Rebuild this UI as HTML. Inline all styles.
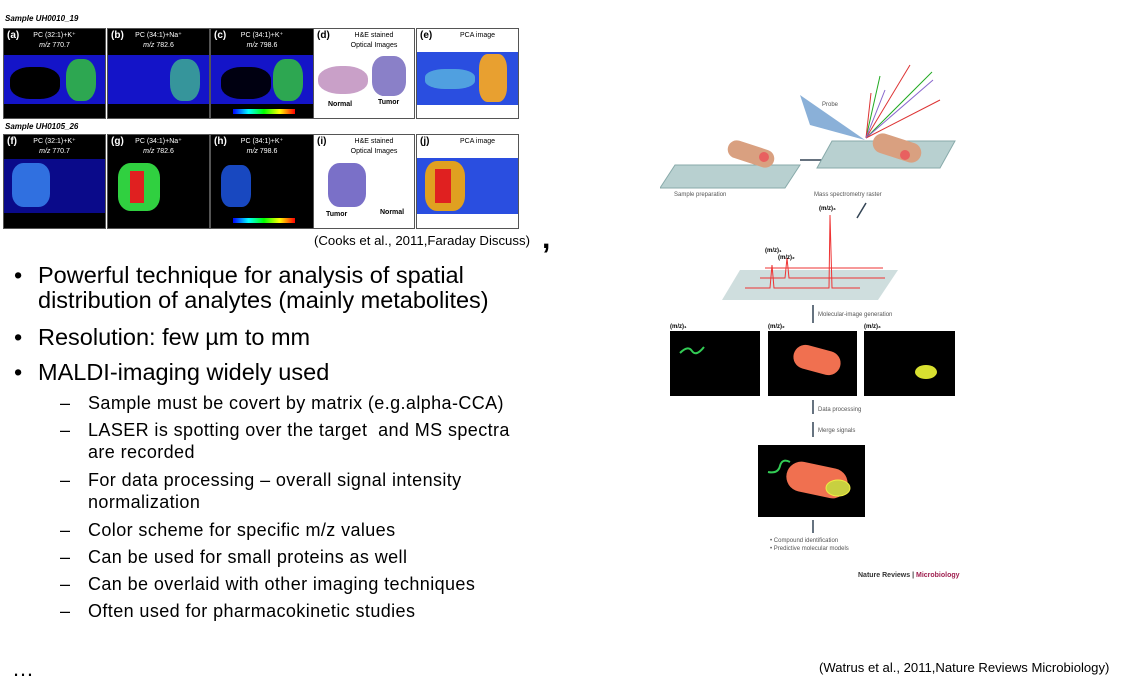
<!DOCTYPE html>
<html><head><meta charset="utf-8"><style>
body{margin:0;width:1121px;height:685px;background:#fff;position:relative;overflow:hidden;font-family:"Liberation Sans",sans-serif;color:#000}
.a{position:absolute}
.pn{position:absolute;background:#000;border:1px solid #555;overflow:hidden}
.pl{position:absolute;left:3px;top:1px;color:#fff;font-size:10px;font-weight:bold}
.pt{position:absolute;left:0;right:0;top:2px;text-align:center;color:#fff;font-size:7px;line-height:10px}
.bd{position:absolute;left:0;right:0;background:#1414c8}
.wp{position:absolute;background:#fff;border:1px solid #555;overflow:hidden}
.wp .pl,.wp .pt{color:#000}
.b1{font-size:23.5px;line-height:25px}
.bl{position:absolute}
.b2{font-size:18px;line-height:22px;letter-spacing:0.4px}
.b2 > div{position:relative;padding-left:28px}
.b2 .bl{left:0}
</style></head><body>
<div class="a" style="left:5px;top:14px;font-size:8px;font-weight:bold;font-style:italic">Sample UH0010_19</div>
<div class="a" style="left:5px;top:122px;font-size:8px;font-weight:bold;font-style:italic">Sample UH0105_26</div>

<div class="pn" style="left:3px;top:28px;width:101px;height:89px"><div class="bd" style="top:26px;height:49px"></div><div class="a" style="left:6px;top:38px;width:50px;height:32px;background:#000;border-radius:40%"></div><div class="a" style="left:62px;top:30px;width:30px;height:42px;background:#3c3;border-radius:40%;opacity:.8"></div><div class="pl">(a)</div><div class="pt">PC (32:1)+K⁺<br><i>m/z</i> 770.7</div></div>
<div class="pn" style="left:107px;top:28px;width:101px;height:89px"><div class="bd" style="top:26px;height:49px"></div><div class="a" style="left:62px;top:30px;width:30px;height:42px;background:#4c8;border-radius:40%;opacity:.7"></div><div class="pl">(b)</div><div class="pt">PC (34:1)+Na⁺<br><i>m/z</i> 782.6</div></div>
<div class="pn" style="left:210px;top:28px;width:102px;height:89px"><div class="bd" style="top:26px;height:49px"></div><div class="a" style="left:10px;top:38px;width:50px;height:32px;background:#001;border-radius:40%"></div><div class="a" style="left:62px;top:30px;width:30px;height:42px;background:#3c3;border-radius:40%;opacity:.8"></div><div class="a" style="left:22px;top:80px;width:62px;height:5px;background:linear-gradient(90deg,#00f,#0ff,#0f0,#ff0,#f00)"></div><div class="pl">(c)</div><div class="pt">PC (34:1)+K⁺<br><i>m/z</i> 798.6</div></div>
<div class="wp" style="left:313px;top:28px;width:100px;height:89px"><div class="a" style="left:4px;top:37px;width:50px;height:28px;background:#c9a0c8;border-radius:45%"></div><div class="a" style="left:58px;top:27px;width:34px;height:40px;background:#8a80c8;border-radius:35%"></div><div class="pl">(d)</div><div class="pt" style="left:20px">H&amp;E stained<br>Optical Images</div><div class="a" style="left:14px;top:72px;font-size:7px;font-weight:bold">Normal</div><div class="a" style="left:64px;top:70px;font-size:7px;font-weight:bold">Tumor</div></div>
<div class="wp" style="left:416px;top:28px;width:101px;height:89px"><div class="bd" style="top:23px;height:53px;background:#2a4ee0"></div><div class="a" style="left:62px;top:25px;width:28px;height:48px;background:#e8a030;border-radius:30%"></div><div class="a" style="left:8px;top:40px;width:50px;height:20px;background:#50a0e0;border-radius:40%"></div><div class="pl">(e)</div><div class="pt" style="left:20px">PCA image</div></div>

<div class="pn" style="left:3px;top:134px;width:101px;height:93px"><div class="bd" style="top:24px;height:54px;background:#0a0a8a"></div><div class="a" style="left:8px;top:28px;width:38px;height:44px;background:#3070e0;border-radius:30%"></div><div class="pl">(f)</div><div class="pt">PC (32:1)+K⁺<br><i>m/z</i> 770.7</div></div>
<div class="pn" style="left:107px;top:134px;width:101px;height:93px"><div class="a" style="left:10px;top:28px;width:42px;height:48px;background:#30d040;border-radius:30%"></div><div class="a" style="left:22px;top:36px;width:14px;height:32px;background:#e02020"></div><div class="pl">(g)</div><div class="pt">PC (34:1)+Na⁺<br><i>m/z</i> 782.6</div></div>
<div class="pn" style="left:210px;top:134px;width:102px;height:93px"><div class="a" style="left:10px;top:30px;width:30px;height:42px;background:#1848c0;border-radius:30%"></div><div class="a" style="left:22px;top:83px;width:62px;height:5px;background:linear-gradient(90deg,#00f,#0ff,#0f0,#ff0,#f00)"></div><div class="pl">(h)</div><div class="pt">PC (34:1)+K⁺<br><i>m/z</i> 798.6</div></div>
<div class="wp" style="left:313px;top:134px;width:100px;height:93px"><div class="a" style="left:14px;top:28px;width:38px;height:44px;background:#7a70c8;border-radius:30%"></div><div class="pl">(i)</div><div class="pt" style="left:20px">H&amp;E stained<br>Optical Images</div><div class="a" style="left:12px;top:76px;font-size:7px;font-weight:bold">Tumor</div><div class="a" style="left:66px;top:74px;font-size:7px;font-weight:bold">Normal</div></div>
<div class="wp" style="left:416px;top:134px;width:101px;height:93px"><div class="bd" style="top:23px;height:56px;background:#2a4ee0"></div><div class="a" style="left:8px;top:26px;width:40px;height:50px;background:#e0a020;border-radius:30%"></div><div class="a" style="left:18px;top:34px;width:16px;height:34px;background:#e02020"></div><div class="pl">(j)</div><div class="pt" style="left:20px">PCA image</div></div>

<div class="a" style="left:314px;top:233px;font-size:13.2px">(Cooks et al., 2011,Faraday Discuss)</div>
<div class="a" style="left:542px;top:222px;font-size:30px;font-weight:bold">,</div>

<div class="a b1" style="left:38px;top:263px"><span class="bl" style="left:-24px">•</span>Powerful technique for analysis of spatial<br>distribution of analytes (mainly metabolites)</div>
<div class="a b1" style="left:38px;top:325px"><span class="bl" style="left:-24px">•</span>Resolution: few µm to mm</div>
<div class="a b1" style="left:38px;top:360px"><span class="bl" style="left:-24px">•</span>MALDI-imaging widely used</div>
<div class="a b2" style="left:60px;top:392px;width:480px">
<div style="height:27px"><span class="bl">–</span>Sample must be covert by matrix (e.g.alpha-CCA)</div>
<div style="height:50px"><span class="bl">–</span>LASER is spotting over the target &nbsp;and MS spectra<br>are recorded</div>
<div style="height:50px"><span class="bl">–</span>For data processing – overall signal intensity<br>normalization</div>
<div style="height:27px"><span class="bl">–</span>Color scheme for specific m/z values</div>
<div style="height:27px"><span class="bl">–</span>Can be used for small proteins as well</div>
<div style="height:27px"><span class="bl">–</span>Can be overlaid with other imaging techniques</div>
<div style="height:27px"><span class="bl">–</span>Often used for pharmacokinetic studies</div>
</div>
<div class="a" style="left:12px;top:656px;font-size:22px">…</div>

<svg class="a" style="left:660px;top:50px" width="320" height="540" viewBox="660 50 320 540">
<polygon points="675,165 800,165 785,188 660,188" fill="#b8d0d0" stroke="#8aa"/>
<rect x="727" y="145" width="48" height="18" rx="9" fill="#d9a080" transform="rotate(18 751 154)"/>
<circle cx="764" cy="157" r="5" fill="#e86060"/>
<line x1="800" y1="160" x2="833" y2="160" stroke="#345" stroke-width="1.5"/>
<polygon points="833,157 838,160 833,163" fill="#345"/>
<polygon points="832,141 955,141 940,168 817,168" fill="#b8d0d0" stroke="#8aa"/>
<rect x="872" y="138" width="50" height="20" rx="10" fill="#d9a080" transform="rotate(18 897 148)"/>
<circle cx="905" cy="155" r="5" fill="#e86060"/>
<polygon points="800,95 865,140 810,125" fill="#8ab0d8"/>
<g stroke-width="1">
<line x1="866" y1="138" x2="910" y2="65" stroke="#d33"/><line x1="866" y1="138" x2="880" y2="76" stroke="#2a2"/>
<line x1="866" y1="138" x2="932" y2="72" stroke="#2a2"/><line x1="866" y1="138" x2="933" y2="80" stroke="#86c"/>
<line x1="866" y1="138" x2="940" y2="100" stroke="#d33"/><line x1="866" y1="138" x2="871" y2="93" stroke="#d33"/>
<line x1="866" y1="138" x2="885" y2="90" stroke="#86c"/></g>
<text x="822" y="106" font-size="6" fill="#555" font-family="Liberation Sans">Probe</text>
<text x="674" y="196" font-size="6" fill="#555" font-family="Liberation Sans">Sample preparation</text>
<text x="814" y="196" font-size="6" fill="#555" font-family="Liberation Sans">Mass spectrometry raster</text>
<line x1="866" y1="203" x2="857" y2="218" stroke="#345" stroke-width="1.5"/>
<polygon points="740,270 898,270 878,300 722,300" fill="#cfdede"/>
<g stroke="#e33" fill="none" stroke-width="1"><polyline points="745,288 770,288 772,265 774,288 790,288 829,288 830,215 832,288 860,288"/><polyline points="760,278 785,278 787,258 789,278 885,278"/><polyline points="765,268 883,268"/></g>
<text x="819" y="210" font-size="6" font-weight="bold" font-family="Liberation Sans">(m/z)₃</text>
<text x="765" y="252" font-size="6" font-weight="bold" font-family="Liberation Sans">(m/z)₁</text>
<text x="778" y="259" font-size="6" font-weight="bold" font-family="Liberation Sans">(m/z)₂</text>
<line x1="813" y1="305" x2="813" y2="323" stroke="#345" stroke-width="1.5"/>
<text x="818" y="316" font-size="6" fill="#555" font-family="Liberation Sans">Molecular-image generation</text>
<text x="670" y="328" font-size="6" font-weight="bold" font-family="Liberation Sans">(m/z)₁</text>
<text x="768" y="328" font-size="6" font-weight="bold" font-family="Liberation Sans">(m/z)₂</text>
<text x="864" y="328" font-size="6" font-weight="bold" font-family="Liberation Sans">(m/z)₃</text>
<rect x="670" y="331" width="90" height="65" fill="#000"/>
<path d="M680 353 q8 -8 12 -2 t12 -4" stroke="#3c5" fill="none" stroke-width="2"/>
<rect x="768" y="331" width="89" height="65" fill="#000"/>
<rect x="793" y="348" width="48" height="24" rx="12" fill="#f07050" transform="rotate(15 817 360)"/>
<rect x="864" y="331" width="91" height="65" fill="#000"/>
<ellipse cx="926" cy="372" rx="11" ry="7" fill="#d8e030"/>
<line x1="813" y1="400" x2="813" y2="414" stroke="#345" stroke-width="1.5"/>
<text x="818" y="411" font-size="6" fill="#555" font-family="Liberation Sans">Data processing</text>
<line x1="813" y1="422" x2="813" y2="437" stroke="#345" stroke-width="1.5"/>
<text x="818" y="432" font-size="6" fill="#555" font-family="Liberation Sans">Merge signals</text>
<rect x="758" y="445" width="107" height="72" fill="#000"/>
<rect x="786" y="465" width="62" height="30" rx="15" fill="#f07050" transform="rotate(12 817 480)"/>
<ellipse cx="838" cy="488" rx="12" ry="8" fill="#c8d040" stroke="#ee4" stroke-width="1"/>
<path d="M768 472 q10 2 12 -6 t10 -4" stroke="#3c5" fill="none" stroke-width="2"/>
<line x1="813" y1="520" x2="813" y2="533" stroke="#345" stroke-width="1.5"/>
<text x="770" y="542" font-size="6" fill="#555" font-family="Liberation Sans">• Compound identification</text>
<text x="770" y="550" font-size="6" fill="#555" font-family="Liberation Sans">• Predictive molecular models</text>
<text x="858" y="577" font-size="7" font-weight="bold" fill="#333" font-family="Liberation Sans">Nature Reviews | <tspan fill="#a02050">Microbiology</tspan></text>
</svg>
<div class="a" style="left:819px;top:660px;font-size:13.1px">(Watrus et al., 2011,Nature Reviews Microbiology)</div>
</body></html>
